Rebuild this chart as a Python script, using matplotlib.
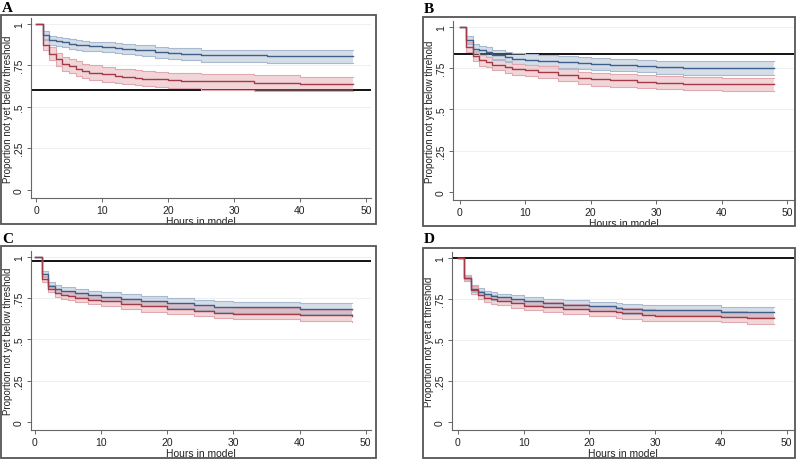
import matplotlib
matplotlib.use("Agg")
import matplotlib.pyplot as plt
from matplotlib.patches import Rectangle

plt.rcParams['font.family'] = ['Liberation Sans', 'DejaVu Sans']

# ---------------- data ----------------
panel_letters = ["A", "B", "C", "D"]
y_labels = ["Proportion not yet below threshold",
            "Proportion not yet below threhold",
            "Proportion not yet below threshold",
            "Proportion not yet at threshold"]
x_label = "Hours in model"
thresholds = [0.60, 0.837, 0.972, 1.0]
y_ticks = [0, 0.25, 0.5, 0.75, 1]
y_tick_labels = ["0", ".25", ".5", ".75", "1"]
x_ticks = [0, 10, 20, 30, 40, 50]

hours_a = [0, 1, 2, 3, 4, 5, 6, 7, 8, 10, 12, 13, 15, 16, 18, 20, 22, 25, 33, 35, 40, 48]
blue_a = [1.0, 0.93, 0.90, 0.895, 0.89, 0.88, 0.875, 0.87, 0.865, 0.862, 0.855, 0.85, 0.845, 0.84, 0.83, 0.825, 0.82, 0.81, 0.81, 0.805, 0.805, 0.805]
blue_a_hi = [1.0, 0.955, 0.925, 0.92, 0.915, 0.906, 0.902, 0.897, 0.893, 0.89, 0.884, 0.879, 0.875, 0.87, 0.861, 0.857, 0.852, 0.843, 0.843, 0.84, 0.84, 0.84]
blue_a_lo = [1.0, 0.905, 0.873, 0.866, 0.86, 0.85, 0.845, 0.839, 0.834, 0.83, 0.823, 0.818, 0.812, 0.806, 0.795, 0.79, 0.784, 0.772, 0.772, 0.766, 0.766, 0.766]
red_a = [1.0, 0.875, 0.82, 0.785, 0.76, 0.745, 0.73, 0.715, 0.705, 0.695, 0.685, 0.68, 0.675, 0.67, 0.665, 0.66, 0.658, 0.655, 0.645, 0.645, 0.635, 0.635]
red_a_hi = [1.0, 0.91, 0.86, 0.826, 0.802, 0.788, 0.773, 0.758, 0.749, 0.739, 0.73, 0.725, 0.72, 0.715, 0.71, 0.705, 0.703, 0.7, 0.69, 0.69, 0.68, 0.68]
red_a_lo = [1.0, 0.84, 0.78, 0.743, 0.717, 0.702, 0.687, 0.672, 0.661, 0.651, 0.641, 0.636, 0.631, 0.626, 0.621, 0.616, 0.614, 0.603, 0.597, 0.597, 0.592, 0.592]

hours_b = [0, 1, 2, 3, 4, 5, 7, 8, 10, 12, 15, 18, 20, 23, 27, 30, 34, 40, 48]
blue_b = [1.0, 0.92, 0.867, 0.857, 0.847, 0.83, 0.817, 0.806, 0.8, 0.795, 0.786, 0.78, 0.776, 0.77, 0.762, 0.755, 0.75, 0.75, 0.75]
blue_b_hi = [1.0, 0.944, 0.895, 0.886, 0.877, 0.861, 0.849, 0.839, 0.834, 0.829, 0.821, 0.816, 0.812, 0.807, 0.8, 0.794, 0.79, 0.79, 0.79]
blue_b_lo = [1.0, 0.896, 0.839, 0.828, 0.817, 0.799, 0.785, 0.773, 0.766, 0.761, 0.751, 0.744, 0.74, 0.733, 0.724, 0.716, 0.71, 0.71, 0.71]
red_b = [1.0, 0.877, 0.823, 0.796, 0.786, 0.77, 0.756, 0.742, 0.735, 0.726, 0.706, 0.69, 0.682, 0.675, 0.668, 0.66, 0.656, 0.652, 0.652]
red_b_hi = [1.0, 0.905, 0.853, 0.827, 0.818, 0.803, 0.79, 0.777, 0.77, 0.762, 0.743, 0.728, 0.72, 0.714, 0.707, 0.7, 0.696, 0.692, 0.692]
red_b_lo = [1.0, 0.849, 0.793, 0.765, 0.754, 0.737, 0.722, 0.707, 0.7, 0.69, 0.669, 0.652, 0.644, 0.636, 0.629, 0.62, 0.616, 0.612, 0.612]

hours_c = [0, 1, 2, 3, 4, 5, 6, 8, 10, 13, 16, 20, 24, 27, 30, 40, 48]
blue_c = [1.0, 0.894, 0.825, 0.806, 0.795, 0.79, 0.78, 0.768, 0.757, 0.744, 0.731, 0.72, 0.708, 0.698, 0.693, 0.686, 0.684]
blue_c_hi = [1.0, 0.912, 0.846, 0.829, 0.819, 0.815, 0.806, 0.795, 0.785, 0.773, 0.761, 0.751, 0.74, 0.731, 0.727, 0.721, 0.719]
blue_c_lo = [1.0, 0.876, 0.804, 0.783, 0.771, 0.765, 0.754, 0.741, 0.729, 0.715, 0.701, 0.689, 0.676, 0.665, 0.659, 0.651, 0.649]
red_c = [1.0, 0.867, 0.806, 0.783, 0.768, 0.762, 0.753, 0.739, 0.729, 0.713, 0.699, 0.685, 0.672, 0.66, 0.656, 0.645, 0.642]
red_c_hi = [1.0, 0.885, 0.828, 0.807, 0.793, 0.788, 0.78, 0.767, 0.758, 0.743, 0.73, 0.717, 0.705, 0.694, 0.69, 0.68, 0.677]
red_c_lo = [1.0, 0.849, 0.784, 0.759, 0.743, 0.736, 0.726, 0.711, 0.7, 0.683, 0.668, 0.653, 0.639, 0.626, 0.622, 0.61, 0.607]

hours_d = [0, 1, 2, 3, 4, 5, 6, 8, 10, 13, 16, 20, 24, 25, 28, 30, 40, 44, 48]
blue_d = [1.0, 0.877, 0.812, 0.792, 0.778, 0.766, 0.758, 0.746, 0.736, 0.724, 0.714, 0.704, 0.696, 0.688, 0.684, 0.681, 0.671, 0.667, 0.667]
blue_d_hi = [1.0, 0.895, 0.832, 0.813, 0.8, 0.789, 0.781, 0.77, 0.761, 0.75, 0.741, 0.732, 0.725, 0.717, 0.714, 0.711, 0.702, 0.698, 0.698]
blue_d_lo = [1.0, 0.859, 0.792, 0.771, 0.756, 0.743, 0.735, 0.722, 0.711, 0.698, 0.687, 0.676, 0.667, 0.659, 0.654, 0.651, 0.64, 0.636, 0.636]
red_d = [1.0, 0.877, 0.802, 0.772, 0.756, 0.746, 0.736, 0.722, 0.708, 0.698, 0.687, 0.675, 0.667, 0.662, 0.651, 0.647, 0.641, 0.633, 0.633]
red_d_hi = [1.0, 0.897, 0.825, 0.796, 0.781, 0.772, 0.763, 0.75, 0.737, 0.728, 0.718, 0.707, 0.7, 0.695, 0.685, 0.681, 0.675, 0.668, 0.668]
red_d_lo = [1.0, 0.857, 0.779, 0.748, 0.731, 0.72, 0.709, 0.694, 0.679, 0.668, 0.656, 0.643, 0.634, 0.629, 0.617, 0.613, 0.607, 0.598, 0.598]

panels = [
    (hours_a, blue_a, blue_a_lo, blue_a_hi, red_a, red_a_lo, red_a_hi),
    (hours_b, blue_b, blue_b_lo, blue_b_hi, red_b, red_b_lo, red_b_hi),
    (hours_c, blue_c, blue_c_lo, blue_c_hi, red_c, red_c_lo, red_c_hi),
    (hours_d, blue_d, blue_d_lo, blue_d_hi, red_d, red_d_lo, red_d_hi),
]

# ---------------- layout (pixels) ----------------
W, H = 800, 460
axes_px = [(31, 19, 371, 199), (453, 22, 794, 201), (31, 252, 371, 431), (452, 253, 794, 431)]
frames_px = [(1, 16, 376, 225), (423, 18, 795, 227), (1, 247, 376, 459), (423, 249, 795, 459)]
xlims = [(-0.76, 50.76), (-1.0, 51.0), (-0.6, 50.8), (-0.9, 51.1)]
letters_px = [(2, 12), (424, 13), (2, 243), (424, 243)]

BLUE = "#3e5f8c"
RED = "#a33a48"
BLUE_FILL = "#879ebd"
RED_FILL = "#da8790"
BLUE_EDGE = "#a9b9cf"
RED_EDGE = "#e0a9b0"

fig = plt.figure(figsize=(W / 100, H / 100), dpi=100)
fig.patch.set_facecolor("white")


def rect(l, t, r, b):
    return [l / W, 1 - b / H, (r - l) / W, (b - t) / H]


for i, (hrs, bl, bl_lo, bl_hi, rd, rd_lo, rd_hi) in enumerate(panels):
    fl, ft, fr, fb = frames_px[i]
    fig.patches.append(Rectangle((fl / W, 1 - fb / H), (fr - fl) / W, (fb - ft) / H,
                                 transform=fig.transFigure, fill=False,
                                 edgecolor="#555555", lw=1.3, zorder=0))
    lx, ly = letters_px[i]
    fig.text(lx / W, 1 - ly / H, panel_letters[i], fontsize=11, fontweight="bold",
             family=["Liberation Serif", "DejaVu Serif"], va="baseline", ha="left")

    ax = fig.add_axes(rect(*axes_px[i]))
    ax.set_xlim(*xlims[i])
    ax.set_ylim(-0.05, 1.035)
    for y in y_ticks[1:]:
        ax.axhline(y, color="#eef0f3", lw=0.8, zorder=0)
    ax.axhline(thresholds[i], color="#111111", lw=1.4, zorder=1)

    ax.fill_between(hrs, bl_lo, bl_hi, step="post", color=BLUE_FILL, alpha=0.35, lw=0, zorder=2)
    ax.step(hrs, bl_lo, where="post", color=BLUE_EDGE, lw=0.8, zorder=3)
    ax.step(hrs, bl_hi, where="post", color=BLUE_EDGE, lw=0.8, zorder=3)
    ax.fill_between(hrs, rd_lo, rd_hi, step="post", color=RED_FILL, alpha=0.35, lw=0, zorder=2)
    ax.step(hrs, rd_lo, where="post", color=RED_EDGE, lw=0.8, zorder=3)
    ax.step(hrs, rd_hi, where="post", color=RED_EDGE, lw=0.8, zorder=3)
    ax.step(hrs, bl, where="post", color=BLUE, lw=1.0, zorder=4)
    ax.step(hrs, rd, where="post", color=RED, lw=1.0, zorder=5)

    ax.set_xticks(x_ticks)
    ax.set_yticks(y_ticks)
    ax.set_yticklabels(y_tick_labels, rotation=90, va="center")
    ax.tick_params(axis="both", labelsize=7.5, length=3, width=0.7, color="#666666",
                   labelcolor="#222222", pad=2)
    for s in ("top", "right"):
        ax.spines[s].set_visible(False)
    for s in ("left", "bottom"):
        ax.spines[s].set_color("#666666")
        ax.spines[s].set_linewidth(0.8)
    ax.set_xlabel(x_label, fontsize=7.5, color="#222222", labelpad=1)
    ax.set_ylabel(y_labels[i], fontsize=7, color="#222222", labelpad=0.5)
    ax.patch.set_alpha(0)

fig.savefig("out.png", dpi=100, facecolor="white")
